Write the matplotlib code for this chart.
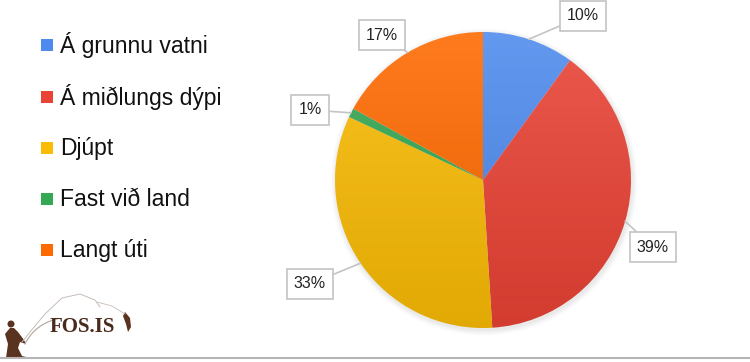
import numpy as np
import matplotlib.pyplot as plt
from matplotlib.patches import Rectangle, Polygon
from matplotlib.colors import LinearSegmentedColormap

plt.rcParams['font.family'] = ['Liberation Sans', 'DejaVu Sans']

categories = ['Á grunnu vatni', 'Á miðlungs dýpi', 'Djúpt', 'Fast við land', 'Langt úti']
values = [10, 39, 33, 1, 17]
colors = ['#4f8bee', '#ea4335', '#fbbc05', '#34a853', '#ff6a00']
label_pos = [(583, 346), (653, 115), (310, 78), (310, 252), (382, 327)]

W, H = 750, 362
fig = plt.figure(figsize=(7.5, 3.62), dpi=100)
ax = fig.add_axes([0, 0, 1, 1])

cx, cy, r = 483, 182, 148

# soft shadow behind the pie
for i, a in enumerate([0.05, 0.05, 0.04, 0.03]):
    ax.add_patch(plt.Circle((cx + 1, cy - 2), r + 1 + i * 1.5, color='#888888', alpha=a, lw=0, zorder=1))

wedges, _ = ax.pie(values, colors=colors, startangle=90, counterclock=False,
                   center=(cx, cy), radius=r, frame=True,
                   wedgeprops=dict(linewidth=0, zorder=2))
ax.set_xlim(0, W)
ax.set_ylim(0, H)
ax.set_aspect('equal')
ax.axis('off')

# slight vertical gradient shading over the pie
grad = np.linspace(0, 1, 256).reshape(-1, 1)
shade = LinearSegmentedColormap.from_list('sh', [(0, 0, 0, 0.10), (1, 1, 1, 0.12)])
img = ax.imshow(grad, extent=(cx - r, cx + r, cy - r, cy + r), cmap=shade,
                origin='lower', zorder=3, aspect='auto')
img.set_clip_path(plt.Circle((cx, cy), r, transform=ax.transData))

for w, v, (lx, ly) in zip(wedges, values, label_pos):
    th = np.deg2rad((w.theta1 + w.theta2) / 2)
    px, py = cx + r * np.cos(th), cy + r * np.sin(th)
    ax.annotate(f'{v}%', xy=(px, py), xytext=(lx, ly), ha='center', va='center',
                fontsize=11.5, color='#222222', zorder=5,
                bbox=dict(boxstyle='square,pad=0.45', fc='white', ec='#c4c4c4', lw=1.2),
                arrowprops=dict(arrowstyle='-', color='#c4c4c4', lw=1.2,
                                shrinkA=0, shrinkB=0))

# legend
leg_y = [317, 265, 214, 163, 112]
for name, c, y in zip(categories, colors, leg_y):
    ax.add_patch(Rectangle((41, y - 6), 12, 12, color=c, lw=0))
    ax.text(60, y, name, fontsize=16.5, va='center', ha='left', color='#111111')

# logo
brown = '#5a3220'
t = np.linspace(0, 1, 80)
rx = 25 + 35 * t + 40 * t ** 2
ry = 18 + 70 * t - 45 * t ** 2
ax.plot(rx[:45], ry[:45], color='#b9aca4', lw=0.9)
ax.plot([22, 30, 45, 62, 80, 95, 100],
        [20, 30, 48, 64, 68, 62, 55], color='#c8bdb6', lw=0.7)
ax.plot([97, 112, 125], [60, 56, 48], color='#c8bdb6', lw=0.6)
ax.add_patch(Polygon([(6, 4), (8, 18), (5, 28), (10, 34), (14, 34), (18, 30), (24, 22),
                      (26, 18), (20, 20), (18, 14), (22, 6), (30, 4)], color=brown, lw=0))
ax.add_patch(plt.Circle((11, 38), 3.5, color=brown, lw=0))
ax.add_patch(Polygon([(125, 50), (130, 44), (131, 35), (128, 30), (126, 38), (123, 46)],
                     color=brown, lw=0))
ax.text(50, 35, 'FOS.IS', fontsize=15, fontweight='bold', family=['Liberation Serif', 'DejaVu Serif'],
        color='#4a2a1c', va='center', ha='left')

ax.plot([0, W], [4, 4], color='#b5b5b5', lw=1.5)

fig.savefig('out.png', dpi=100)
